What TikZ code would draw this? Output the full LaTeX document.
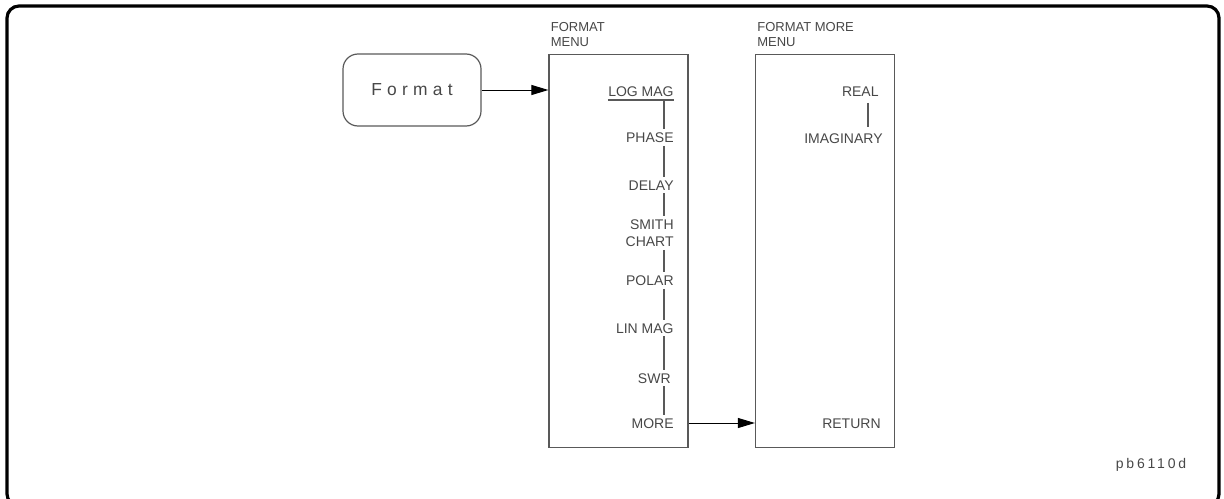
\documentclass[tikz,border=0pt]{standalone}
\usepackage{fontspec}
\setmainfont{Liberation Sans}
\newfontfamily\fmtfont[LetterSpace=30]{Liberation Sans}
\newfontfamily\idfont[LetterSpace=20]{Liberation Sans}
\usetikzlibrary{arrows.meta,calc}
\begin{document}
\begin{tikzpicture}[x=0.5pt,y=-0.5pt,
  lbl/.style={anchor=east,inner xsep=0pt,inner ysep=1.5pt,text=black!72,font=\fontsize{7}{8.5}\selectfont,text height=5pt,text depth=0pt},
  title/.style={anchor=south west,inner sep=0pt,text=black!72,font=\fontsize{6.5}{7.5}\selectfont,text depth=0pt,align=left},
  menubox/.style={draw=black!65,line width=0.6pt,minimum width=69.5pt,minimum height=196.5pt,inner sep=0pt},
  keybox/.style={draw=black!65,line width=0.6pt,rounded corners=7.5pt,minimum width=69pt,minimum height=36pt,inner sep=0pt,text=black!72,font=\fmtfont\fontsize{8.7}{10}\selectfont},
  vline/.style={draw=black!65,line width=0.6pt},
  arr/.style={draw=black,line width=0.5pt,-{Triangle[length=8.5pt,width=5pt]}},
  frame/.style={draw=black,line width=1.6pt,rounded corners=6pt}]
\useasboundingbox (0,0) rectangle (1224,498);
\begin{scope}
\clip (0,0) rectangle (1224,498);
\draw[frame] (7,6) rectangle (1219,506);
\end{scope}

% key
\node[keybox] (fmt) at (412,90) {Format};

% menu boxes
\node[menubox] (m1) at (618.5,250.75) {};
\node[menubox] (m2) at (825,250.75) {};
\node[title] (t1) at ($(m1.north west)+(2,-7)$) {FORMAT\\MENU};
\node[title] (t2) at ($(m2.north west)+(2,-7)$) {FORMAT MORE\\MENU};

\coordinate (x1) at (664,0);
\coordinate (x2) at (868,0);

% format menu items
\node[lbl] (logmag) at (674,91.5) {LOG MAG};
\node[lbl] (phase) at (674,137.5) {PHASE};
\node[lbl] (delay) at (674,185) {DELAY};
\node[lbl] (smith) at (674,224.5) {SMITH};
\node[lbl] (chart) at (674,241.5) {CHART};
\node[lbl] (polar) at (674,280.5) {POLAR};
\node[lbl] (linmag) at (674,328) {LIN MAG};
\node[lbl] (swr) at (671,378) {SWR};
\node[lbl] (more) at (674,423) {MORE};

\draw[draw=black!65,line width=1pt] (logmag.south west) -- (logmag.south east);
\draw[vline] (logmag.south -| x1) -- (phase.north -| x1);
\draw[vline] (phase.south -| x1) -- (delay.north -| x1);
\draw[vline] (delay.south -| x1) -- (smith.north -| x1);
\draw[vline] (chart.south -| x1) -- (polar.north -| x1);
\draw[vline] (polar.south -| x1) -- (linmag.north -| x1);
\draw[vline] (linmag.south -| x1) -- (swr.north -| x1);
\draw[vline] (swr.south -| x1) -- (more.north -| x1);

% format more menu items
\node[lbl] (real) at (879,91.5) {REAL};
\node[lbl] (imag) at (883,138.5) {IMAGINARY};
\node[lbl] (ret) at (881,423) {RETURN};
\draw[vline] ($(real.south -| x2)+(0,3)$) -- ($(imag.north -| x2)+(0,-3)$);

% arrows
\draw[arr] (fmt.east) -- (fmt.east -| m1.west);
\draw[arr] (more -| m1.east) -- (more -| m2.west);

% id
\node[anchor=base,inner sep=0pt,text=black!72,font=\idfont\fontsize{7}{8}\selectfont] (id) at (1151,468) {pb6110d};
\end{tikzpicture}
\end{document}
